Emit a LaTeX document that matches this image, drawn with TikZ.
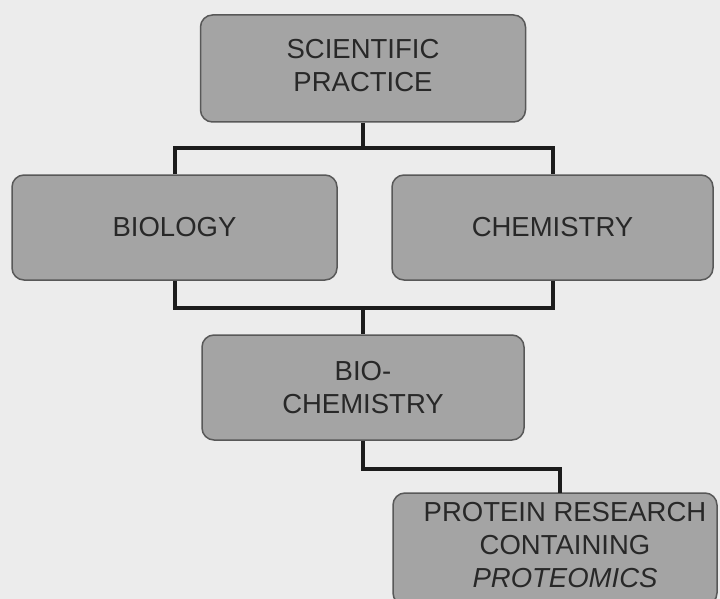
\documentclass[tikz,border=0pt]{standalone}
\usepackage{fontspec}
\setmainfont{Liberation Sans}
\definecolor{bgcol}{RGB}{236,236,236}
\definecolor{boxfill}{RGB}{164,164,164}
\definecolor{boxedge}{RGB}{88,88,88}
\definecolor{txtcol}{RGB}{40,40,40}
\definecolor{linecol}{RGB}{28,28,28}
\tikzset{
  box/.style={draw=boxedge, fill=boxfill, line width=1.5pt, rounded corners=12pt,
    inner sep=0pt, align=center, text=txtcol,
    font=\fontsize{27.5}{33}\selectfont},
  lbl/.style={align=center, text=txtcol, inner sep=0pt, font=\fontsize{27.5}{33}\selectfont},
  conn/.style={draw=linecol, line width=4pt, line join=miter}
}
\begin{document}
\begin{tikzpicture}[x=1pt,y=-1pt]
\useasboundingbox (0,0) rectangle (720,599);
\clip (0,0) rectangle (720,599);
\fill[bgcol] (0,0) rectangle (720,599);

\node[box, minimum width=325pt, minimum height=107pt] (sp) at (363,68.5) {};
\node[lbl] (splbl) at (363,65.5) {SCIENTIFIC\\PRACTICE};
\node[box, minimum width=325pt, minimum height=105pt] (bio) at (174.5,227.5) {BIOLOGY};
\node[box, minimum width=321pt, minimum height=105pt] (chem) at (552.5,227.5) {CHEMISTRY};
\node[box, minimum width=322pt, minimum height=105pt] (bc) at (363,387.5) {BIO-\\CHEMISTRY};
\node[box, minimum width=324pt, minimum height=112pt] (prot) at (555,549) {};
\node[lbl] (protlbl) at (565,545) {PROTEIN RESEARCH\\CONTAINING\\\textit{PROTEOMICS}};

\coordinate (j1) at (363,148);
\coordinate (j2) at (363,308);
\coordinate (ptop) at (560,493);

\draw[conn] (sp.south) -- (j1);
\draw[conn] (bio.north) |- (j1) -| (chem.north);
\draw[conn] (bio.south) |- (j2) -| (chem.south);
\draw[conn] (j2) -- (bc.north);
\draw[conn] (bc.south) -- ++(0,28) -| (ptop);
\end{tikzpicture}
\end{document}
